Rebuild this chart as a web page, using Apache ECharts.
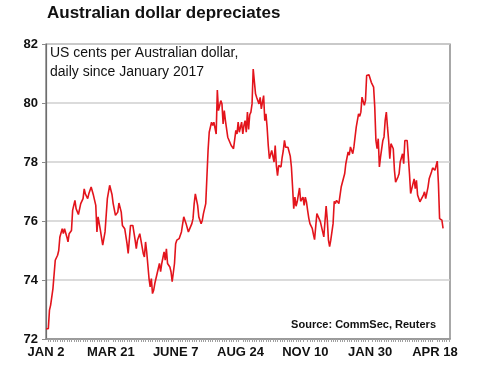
<!DOCTYPE html>
<html>
<head>
<meta charset="utf-8">
<script src="https://cdn.jsdelivr.net/npm/echarts@6/dist/echarts.min.js"></script>
<style>html,body{margin:0;padding:0;background:#fff}#c{width:482px;height:380px}</style>
</head>
<body>
<div id="c"></div>
<script>
// Trading-day index since 2 Jan 2017
var dayIndex = [0,2,3,4,6,7,8,10,11,12,13,14,15,16,18,19,20,22,23,25,26,28,30,32,33,34,36,37,39,41,43,44,45,47,49,51,52,53,55,57,58,60,62,63,65,66,68,70,71,72,73,75,77,78,79,81,82,84,85,86,87,89,90,91,92,93,94,96,98,99,100,102,103,104,105,107,108,109,111,112,113,115,117,119,120,121,123,124,126,127,128,129,131,132,133,134,135,136,138,139,140,141,142,143,144,145,146,147,148,149,151,152,153,154,155,157,158,160,161,162,164,165,166,167,169,170,171,172,173,174,175,176,177,178,179,180,181,182,183,184,185,186,188,189,190,191,192,193,195,196,197,198,199,200,201,203,204,205,206,207,209,211,212,213,214,215,216,217,218,219,220,222,223,224,225,226,227,228,230,231,232,234,235,237,238,240,242,243,244,245,246,248,249,250,251,253,255,256,258,259,261,262,263,265,266,267,268,270,271,272,273,275,276,277,279,280,281,283,284,285,286,287,288,289,291,292,293,294,295,296,297,298,300,301,302,304,305,306,308,309,310,312,313,314,315,316,318,319,320,321,323,324,326,327,328,330,331,333,334,336,337,338,339,340,342,343];
// US cents per Australian dollar
var audValue = [72.35,72.35,72.98,73.15,73.71,73.77,74.67,74.84,75.0,75.46,75.4,75.74,75.57,75.74,75.46,75.29,75.57,75.68,76.36,76.70,76.42,76.22,76.59,76.76,77.09,76.92,76.76,76.92,77.15,76.87,76.53,75.63,76.14,75.68,75.18,75.63,75.63,76.76,77.21,76.9,76.6,76.19,76.3,76.61,76.3,75.85,75.74,75.23,74.9,74.95,75.85,75.85,75.35,75.06,75.35,75.57,75.35,74.9,74.78,75.29,74.95,74.05,73.77,74.05,73.54,73.65,73.88,74.22,74.56,74.28,74.56,74.95,74.67,75.06,74.56,74.44,74.28,73.94,74.56,75.23,75.35,75.40,75.63,76.14,76.1,75.91,75.63,75.57,75.91,76.08,76.59,76.92,76.53,76.14,76.19,75.91,76.02,76.25,76.59,77.49,78.39,79.01,79.07,79.35,79.24,79.35,79.40,78.95,80.44,79.74,80.08,79.97,79.29,79.74,79.40,78.84,78.78,78.56,78.56,78.45,79.07,78.95,79.35,79.01,79.35,78.95,79.24,79.40,79.01,79.69,79.1,79.6,79.69,79.97,81.15,81.10,80.31,80.19,80.25,79.97,80.19,79.80,80.25,79.40,79.63,79.18,78.56,78.11,78.39,78.39,78.00,78.56,77.88,77.54,77.88,77.83,78.16,78.39,78.73,78.50,78.50,78.2,77.83,77.15,76.42,76.81,76.5,76.65,76.59,77.12,76.67,76.81,76.53,76.81,76.65,76.36,76.1,75.91,75.75,75.55,75.37,76.25,76.19,75.98,76.0,75.46,76.51,76.03,75.35,75.13,75.35,75.91,76.67,76.59,76.7,76.59,77.15,77.18,77.6,77.94,78.34,78.23,78.51,78.28,78.51,78.85,79.18,79.63,79.55,79.69,80.2,79.92,80.09,80.93,80.96,80.95,80.7,80.54,79.86,78.73,78.45,78.79,77.83,78.17,78.73,78.85,79.41,79.69,79.18,78.73,78.11,78.62,78.45,77.72,77.32,77.49,77.6,78.0,78.28,77.94,78.73,78.73,78.76,77.6,76.93,76.99,77.43,77.1,77.38,76.88,76.65,76.65,76.88,76.99,76.76,77.15,77.43,77.66,77.80,77.72,77.75,78.03,77.27,76.08,76.03,75.75];
var tickLabels = ['JAN 2','MAR 21','JUNE 7','AUG 24','NOV 10','JAN 30','APR 18'];
var tickStep = 56;

var seriesData = dayIndex.map(function(d, i){ return [d, audValue[i]]; });
var font = '"Liberation Sans", Arial, sans-serif';
var chart = echarts.init(document.getElementById('c'), null, {renderer:'canvas'});
chart.setOption({
  animation:false,
  backgroundColor:'#fff',
  title:{
    text:'Australian dollar depreciates',
    left:47, top:5, padding:0,
    textStyle:{fontFamily:font, fontSize:17, fontWeight:'bold', color:'#111'}
  },
  grid:{left:46, right:32, top:44, bottom:41, show:true, borderColor:'#6e6e6e', borderWidth:1.2, backgroundColor:'transparent'},
  xAxis:{
    type:'value', min:0, max:349, interval:tickStep,
    axisLine:{show:true, lineStyle:{color:'#8a8a8a', width:1.5}},
    axisTick:{show:false},
    minorTick:{show:true, splitNumber:28, length:3, lineStyle:{color:'#a0a0a0', width:1}},
    splitLine:{show:false},
    axisLabel:{
      fontFamily:font, fontSize:13, fontWeight:'bold', color:'#111', margin:7,
      showMaxLabel:false,
      formatter:function(v){ var k = Math.round(v / tickStep); return (v % tickStep === 0 && tickLabels[k]) ? tickLabels[k] : ''; }
    }
  },
  yAxis:{
    type:'value', min:72, max:82, interval:2,
    axisLine:{show:true, lineStyle:{color:'#6e6e6e', width:1.2}},
    axisTick:{show:true, length:4, lineStyle:{color:'#8a8a8a'}},
    splitLine:{show:true, lineStyle:{color:'#cfcfcf', width:1.5}},
    axisLabel:{fontFamily:font, fontSize:13, fontWeight:'bold', color:'#111', margin:8}
  },
  graphic:[
    {type:'text', left:50, top:44, style:{text:'US cents per Australian dollar,\ndaily since January 2017', font:'14px "Liberation Sans", Arial, sans-serif', fill:'#111', lineHeight:19}},
    {type:'text', right:46, top:319, style:{text:'Source: CommSec, Reuters', font:'bold 11px "Liberation Sans", Arial, sans-serif', fill:'#111'}}
  ],
  series:[{
    type:'line', data:seriesData, showSymbol:false, symbol:'none',
    lineStyle:{color:'#e3141c', width:1.6}
  }]
});
</script>
</body>
</html>
